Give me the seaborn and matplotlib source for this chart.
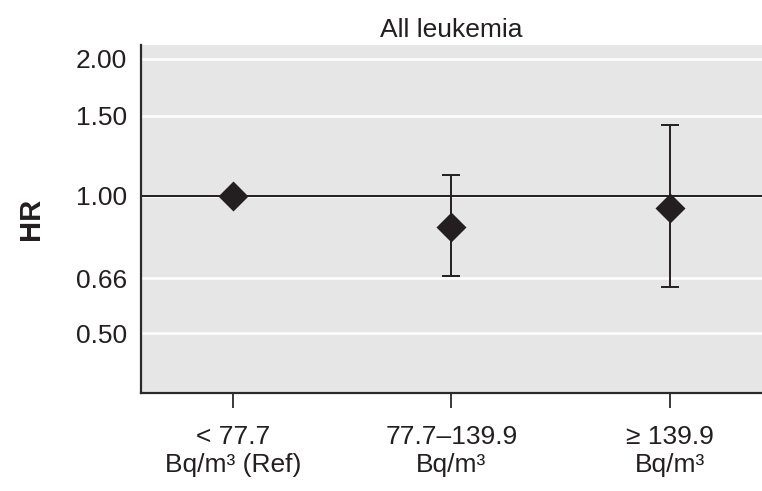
import seaborn as sns
import pandas as pd
import matplotlib
matplotlib.use('Agg')
import matplotlib.pyplot as plt

# data
groups = ['< 77.7\nBq/m³ (Ref)', '77.7–139.9\nBq/m³', '≥ 139.9\nBq/m³']
hr = [1.00, 0.855, 0.94]
ci_low = [1.00, 0.668, 0.63]
ci_high = [1.00, 1.11, 1.43]
yticks = [0.50, 0.66, 1.00, 1.50, 2.00]

ink = '#231f20'

sns.set_theme(style='darkgrid', rc={
    'axes.facecolor': '#e6e6e6',
    'grid.color': 'white',
    'grid.linewidth': 1.8,
    'axes.edgecolor': '#2a2a2a',
    'axes.linewidth': 1.6,
})
plt.rcParams['font.family'] = ['Liberation Sans Narrow', 'DejaVu Sans Condensed', 'Liberation Sans', 'DejaVu Sans']

df = pd.DataFrame({'group': groups, 'HR': hr})

fig = plt.figure(figsize=(7.62, 4.91), dpi=100)
ax = fig.add_axes([0.185, 0.2, 0.815, 0.708])

ax.axhline(1.0, color=ink, lw=1.4, zorder=2)

sns.pointplot(data=df, x='group', y='HR', markers='D', linestyle='none',
              color=ink, errorbar=None, markersize=13.5, ax=ax, zorder=4)

# confidence intervals (reference group has none)
xs = list(range(len(groups)))
lo_err = [h - lo for h, lo in zip(hr, ci_low)]
hi_err = [hi - h for h, hi in zip(hr, ci_high)]
ax.errorbar(xs[1:], hr[1:], yerr=[lo_err[1:], hi_err[1:]], fmt='none',
            ecolor=ink, elinewidth=1.4, capsize=6.5, capthick=1.4, zorder=3)

ax.set_yscale('log')
ax.set_ylim(0.37, 2.14)
ax.set_xlim(-0.42, 2.42)
ax.set_yticks(yticks)
ax.set_yticklabels([f'{v:.2f}' for v in yticks])
ax.minorticks_off()
ax.grid(axis='x', visible=False)

for s in ['top', 'right']:
    ax.spines[s].set_visible(False)

ax.tick_params(axis='y', length=0, pad=10, labelsize=19, labelcolor=ink)
ax.tick_params(axis='x', length=11, width=1.3, color='#2a2a2a', pad=12,
               labelsize=19, labelcolor=ink, direction='out', bottom=True)

ax.set_xlabel('')
ax.set_ylabel('HR', fontsize=21, fontweight='bold', color=ink,
              family=['Liberation Sans', 'DejaVu Sans'])
ax.yaxis.set_label_coords(-0.155, 0.5)
ax.set_title('All leukemia', fontsize=19, color=ink, pad=6)

fig.savefig('out.png', dpi=100)
